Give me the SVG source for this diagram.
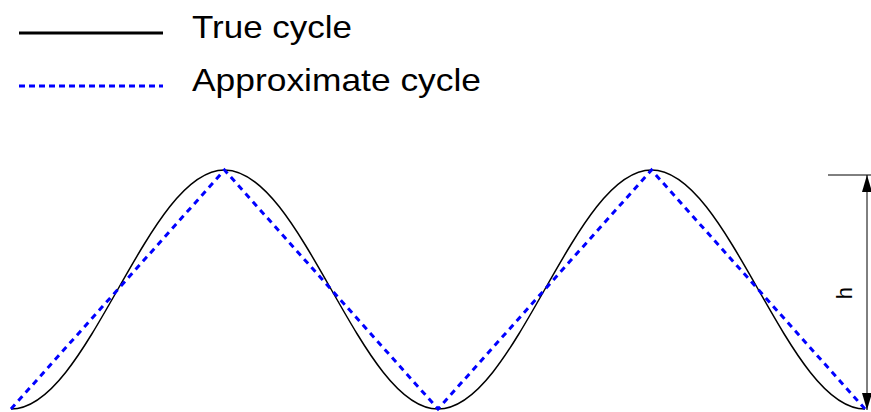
<svg xmlns="http://www.w3.org/2000/svg" width="871" height="412" viewBox="0 0 871 412">
<defs>
<style>
.lbl{font-family:"Liberation Sans",Arial,sans-serif;fill:#000}
.true{fill:none;stroke:#000;stroke-width:1.5}
.approx{fill:none;stroke:#0000ff;stroke-width:3;stroke-dasharray:6 5}
.dim{fill:none;stroke:#000;stroke-width:1}
</style>
<marker id="ah" viewBox="0 0 17 10" refX="17" refY="5" markerWidth="17" markerHeight="10" markerUnits="userSpaceOnUse" orient="auto-start-reverse">
<path d="M0,0 L17,5 L0,10 Z" fill="#000"/>
</marker>
</defs>
<rect width="871" height="412" fill="#fff"/>
<g id="legend">
<line x1="19" y1="33" x2="163" y2="33" stroke="#000" stroke-width="3"/>
<text class="lbl" x="192" y="38" font-size="32" textLength="160" lengthAdjust="spacingAndGlyphs">True cycle</text>
<line x1="19" y1="86" x2="163" y2="86" stroke="#0000ff" stroke-width="3" stroke-dasharray="6 4"/>
<text class="lbl" x="192" y="91" font-size="32" textLength="289" lengthAdjust="spacingAndGlyphs">Approximate cycle</text>
</g>
<g id="connectors">
<path id="true-cycle" class="true" d="M11,409 C49.63,409 82.93,350.72 117.75,289.5 C152.57,228.28 185.87,170 224.5,170 C263.13,170 296.430,228.28 331.25,289.5 C366.07,350.72 399.37,409 438,409 C476.63,409 509.93,350.72 544.75,289.5 C579.57,228.28 612.87,170 651.5,170 C690.13,170 723.43,228.28 758.25,289.5 C793.07,350.72 826.37,409 865,409"/>
<polyline id="approx-cycle" class="approx" points="11,409 224.5,170 438,409 651.5,170 865,409"/>
</g>
<g id="dimension-h">
<line class="dim" x1="828" y1="175" x2="871" y2="175"/>
<line class="dim" x1="867" y1="175" x2="867" y2="410" marker-start="url(#ah)" marker-end="url(#ah)"/>
<text class="lbl" font-size="22" text-anchor="middle" transform="translate(852,293) rotate(-90)">h</text>
</g>
</svg>
